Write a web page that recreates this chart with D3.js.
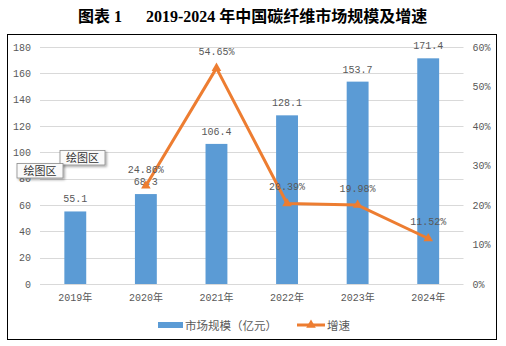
<!DOCTYPE html>
<html>
<head>
<meta charset="utf-8">
<script src="https://cdn.jsdelivr.net/npm/d3@7"></script>
<style>
  html, body { margin: 0; padding: 0; background: #fff; }
  svg { display: block; }
</style>
</head>
<body>
<svg id="chart" width="506" height="346"></svg>
<script>
// Market size (100 million CNY) and year-on-year growth
const years = ["2019年", "2020年", "2021年", "2022年", "2023年", "2024年"];
const marketSize = [55.1, 68.3, 106.4, 128.1, 153.7, 171.4];
const growthYears = ["2020年", "2021年", "2022年", "2023年", "2024年"];
const growthRate = [24.86, 54.65, 20.39, 19.98, 11.52];
const leftTicks = [0, 20, 40, 60, 80, 100, 120, 140, 160, 180];
const rightTicks = [0, 10, 20, 30, 40, 50, 60];
const seriesNames = ["市场规模（亿元）", "增速"];

const BLUE = "#5B9BD5", ORANGE = "#ED7D31", GRID = "#D9D9D9", TXT = "#595959";
const MONO = "'Liberation Mono','DejaVu Sans Mono','Noto Sans CJK SC',monospace";
const CJK = "'Noto Sans CJK SC','Noto Sans',sans-serif";

const svg = d3.select("#chart");

// Title
const title = svg.append("text").attr("y", 22).attr("fill", "#000")
  .attr("font-weight", "bold").attr("font-size", 16)
  .attr("font-family", "'Liberation Serif','Noto Sans CJK SC',serif");
title.append("tspan").attr("x", 78).text("图表 1");
title.append("tspan").attr("x", 146).text("2019-2024 年中国碳纤维市场规模及增速");

// Chart frame
svg.append("rect").attr("x", 7.5).attr("y", 34.5).attr("width", 489).attr("height", 305)
  .attr("fill", "#fff").attr("stroke", "#000").attr("stroke-width", 1);

const plotTop = 47, plotBottom = 284, plotLeft = 40, plotRight = 463.5;

const x = d3.scaleBand().domain(years).range([plotLeft, plotRight])
  .paddingInner(0.69).paddingOuter(0.345);
const y = d3.scaleLinear().domain([0, 180]).range([plotBottom, plotTop]);
const y2 = d3.scaleLinear().domain([0, 60]).range([plotBottom, plotTop]);

// Gridlines
svg.append("g").selectAll("line").data(leftTicks).join("line")
  .attr("x1", plotLeft).attr("x2", plotRight)
  .attr("y1", d => Math.round(y(d)) + 0.5).attr("y2", d => Math.round(y(d)) + 0.5)
  .attr("stroke", GRID).attr("stroke-width", 1);

// Left axis
const axL = svg.append("g").attr("transform", `translate(${plotLeft - 9},0)`)
  .call(d3.axisLeft(y).tickValues(leftTicks).tickSize(0).tickPadding(0));
axL.select(".domain").remove();
axL.selectAll("text").attr("fill", TXT).attr("font-size", 10).attr("font-family", MONO);

// Right axis
const axR = svg.append("g").attr("transform", `translate(${plotRight + 9},0)`)
  .call(d3.axisRight(y2).tickValues(rightTicks).tickSize(0).tickPadding(0).tickFormat(d => d + "%"));
axR.select(".domain").remove();
axR.selectAll("text").attr("fill", TXT).attr("font-size", 10).attr("font-family", MONO);

// Bottom axis
const axB = svg.append("g").attr("transform", `translate(0,${plotBottom})`)
  .call(d3.axisBottom(x).tickSize(0).tickPadding(10));
axB.select(".domain").remove();
axB.selectAll("text").attr("fill", TXT).attr("font-size", 10).attr("font-family", MONO);

// Bars
svg.append("g").selectAll("rect").data(marketSize).join("rect")
  .attr("x", (d, i) => x(years[i])).attr("width", x.bandwidth())
  .attr("y", d => y(d)).attr("height", d => plotBottom - y(d))
  .attr("fill", BLUE);

// Bar value labels
svg.append("g").selectAll("text").data(marketSize).join("text")
  .attr("x", (d, i) => x(years[i]) + x.bandwidth() / 2)
  .attr("y", d => y(d) - 9)
  .attr("text-anchor", "middle").attr("fill", TXT)
  .attr("font-size", 10).attr("font-family", MONO)
  .text(d => d.toFixed(1));

// Growth line
const cx = yr => x(yr) + x.bandwidth() / 2;
const line = d3.line().x((d, i) => cx(growthYears[i])).y(d => y2(d));
svg.append("path").datum(growthRate).attr("d", line)
  .attr("fill", "none").attr("stroke", ORANGE).attr("stroke-width", 3)
  .attr("stroke-linejoin", "round");

const tri = d3.symbol().type(d3.symbolTriangle).size(40);
svg.append("g").selectAll("path").data(growthRate).join("path")
  .attr("d", tri)
  .attr("transform", (d, i) => `translate(${cx(growthYears[i])},${y2(d)})`)
  .attr("fill", ORANGE);

// Growth labels
svg.append("g").selectAll("text").data(growthRate).join("text")
  .attr("x", (d, i) => cx(growthYears[i]))
  .attr("y", d => y2(d) - 13)
  .attr("text-anchor", "middle").attr("fill", TXT)
  .attr("font-size", 10).attr("font-family", MONO)
  .text(d => d.toFixed(2) + "%");

// Legend
const lg = svg.append("g");
lg.append("rect").attr("x", 158).attr("y", 322).attr("width", 25).attr("height", 6).attr("fill", BLUE);
lg.append("text").attr("x", 185).attr("y", 329.5).attr("fill", TXT)
  .attr("font-size", 11.5).attr("font-family", CJK).text(seriesNames[0]);
lg.append("line").attr("x1", 297).attr("x2", 325).attr("y1", 325).attr("y2", 325)
  .attr("stroke", ORANGE).attr("stroke-width", 3);
lg.append("path").attr("d", tri).attr("transform", "translate(311,325)").attr("fill", ORANGE);
lg.append("text").attr("x", 327).attr("y", 329.5).attr("fill", TXT)
  .attr("font-size", 11.5).attr("font-family", CJK).text(seriesNames[1]);

// Hover tips over the plot area
const tips = [{ x: 60, y: 150.5, w: 45, h: 14.5 }, { x: 17, y: 163.5, w: 46, h: 14.5 }];
const defs = svg.append("defs");
const f = defs.append("filter").attr("id", "tipShadow").attr("x", "-20%").attr("y", "-20%")
  .attr("width", "150%").attr("height", "170%");
f.append("feDropShadow").attr("dx", 1.5).attr("dy", 1.5).attr("stdDeviation", 1)
  .attr("flood-color", "#000").attr("flood-opacity", 0.35);
tips.forEach(t => {
  const g = svg.append("g");
  g.append("rect").attr("x", t.x).attr("y", t.y).attr("width", t.w).attr("height", t.h)
    .attr("fill", "#fafafa").attr("stroke", "#8a8a8a").attr("stroke-width", 0.8)
    .attr("filter", "url(#tipShadow)");
  g.append("text").attr("x", t.x + t.w / 2).attr("y", t.y + t.h / 2 + 4)
    .attr("text-anchor", "middle").attr("fill", "#333").attr("font-size", 11)
    .attr("font-family", CJK).text("绘图区");
});
</script>
</body>
</html>
